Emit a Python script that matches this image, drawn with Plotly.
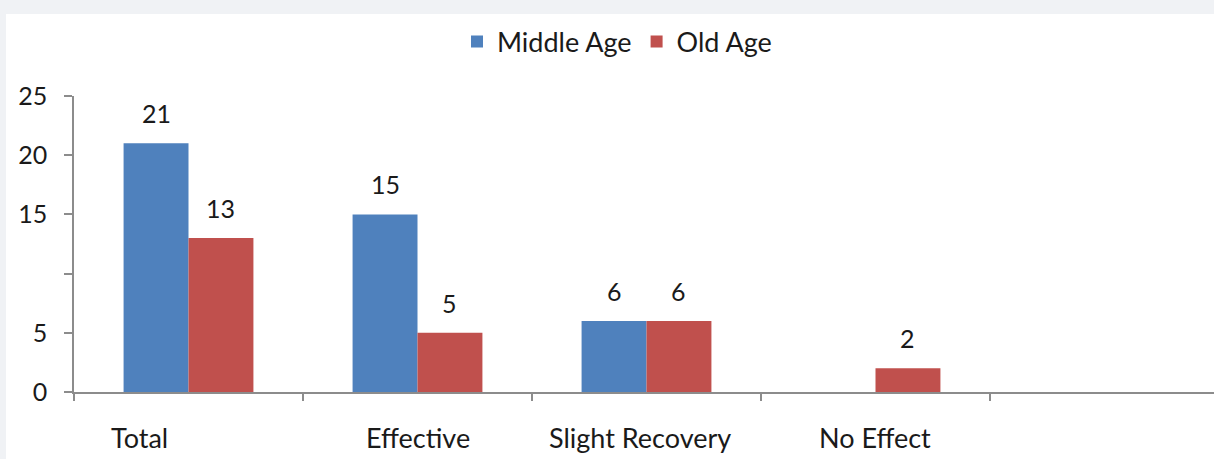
import plotly.graph_objects as go

# Data
categories = ["Total", "Effective", "Slight Recovery", "No Effect"]
middle_age = [21, 15, 6, 0]
old_age = [13, 5, 6, 2]
series_names = ["Middle Age", "Old Age"]
y_tick_values = [0, 5, 10, 15, 20, 25]
y_tick_labels = ["0", "5", "", "15", "20", "25"]

# Style
BLUE = "#4F81BD"
RED = "#C0504D"
AXIS = "#8C8C8C"
TEXT = "#1A1A1A"
FONT = "Lato"
BARGAP = 0.433
W, H = 1214, 459
ML, MR, MT, MB = 74, 0, 96, 67

x_idx = list(range(len(categories)))
plot_w = W - ML - MR
cat_px = 229.0
x_max = -0.5 + plot_w / cat_px

fig = go.Figure()
for name, vals, color in [(series_names[0], middle_age, BLUE), (series_names[1], old_age, RED)]:
    fig.add_trace(go.Bar(
        x=x_idx, y=vals, name=name,
        marker=dict(color=color, line=dict(width=0)),
        hoverinfo="skip",
    ))

# value labels above each bar
bar_w = (1 - BARGAP) / 2
annotations = []
for s, vals in enumerate([middle_age, old_age]):
    off = (s - 0.5) * bar_w
    for i, v in enumerate(vals):
        if v == 0:
            continue
        annotations.append(dict(
            x=i + off, y=v, xref="x", yref="y", text=str(v),
            showarrow=False, yanchor="bottom", yshift=13,
            font=dict(family=FONT, size=25, color=TEXT),
        ))

# category labels under the axis
label_shift = [-49, 0, -7, -1]
for i, c in enumerate(categories):
    annotations.append(dict(
        x=i, y=0, xref="x", yref="paper", text=c,
        showarrow=False, yanchor="middle", yshift=-45, xshift=label_shift[i],
        font=dict(family=FONT, size=27, color=TEXT),
    ))

# white chart panel over a light grey page
panel_left = (6 - ML) / plot_w
panel_top = (H - MB - 14) / (H - MT - MB)
panel_bottom = -(MB + 5) / (H - MT - MB)

fig.update_layout(
    width=W, height=H,
    margin=dict(l=ML, r=MR, t=MT, b=MB, pad=0),
    paper_bgcolor="rgb(240,242,245)",
    plot_bgcolor="white",
    barmode="group", bargap=BARGAP, bargroupgap=0,
    font=dict(family=FONT, size=24, color=TEXT),
    showlegend=True,
    legend=dict(
        orientation="h", x=0.5 + 10 / W, xanchor="center", xref="container",
        y=1 - 42 / H, yanchor="middle", yref="container",
        font=dict(family=FONT, size=27, color=TEXT),
        bgcolor="rgba(0,0,0,0)", itemwidth=30, traceorder="normal",
    ),
    xaxis=dict(
        range=[-0.5, x_max], showgrid=False, zeroline=False,
        showline=True, linecolor=AXIS, linewidth=1.5,
        tickvals=[i - 0.5 for i in x_idx] + [len(x_idx) - 0.5],
        ticktext=[""] * (len(x_idx) + 1),
        ticks="outside", ticklen=7, tickcolor=AXIS, tickwidth=1.5,
        showticklabels=False, fixedrange=True,
    ),
    yaxis=dict(
        range=[0, 25], showgrid=False, zeroline=False,
        showline=True, linecolor=AXIS, linewidth=1.5,
        tickvals=y_tick_values, ticktext=y_tick_labels,
        ticks="outside", ticklen=8, tickcolor=AXIS, tickwidth=1.5,
        ticklabelstandoff=12,
        tickfont=dict(family=FONT, size=25, color=TEXT), fixedrange=True,
    ),
    shapes=[dict(
        type="rect", xref="paper", yref="paper", layer="below",
        x0=panel_left, x1=1.01, y0=panel_bottom, y1=panel_top,
        fillcolor="white", line=dict(width=0),
    )],
    annotations=annotations,
)

fig.write_html("out.html", config=dict(displayModeBar=False))
